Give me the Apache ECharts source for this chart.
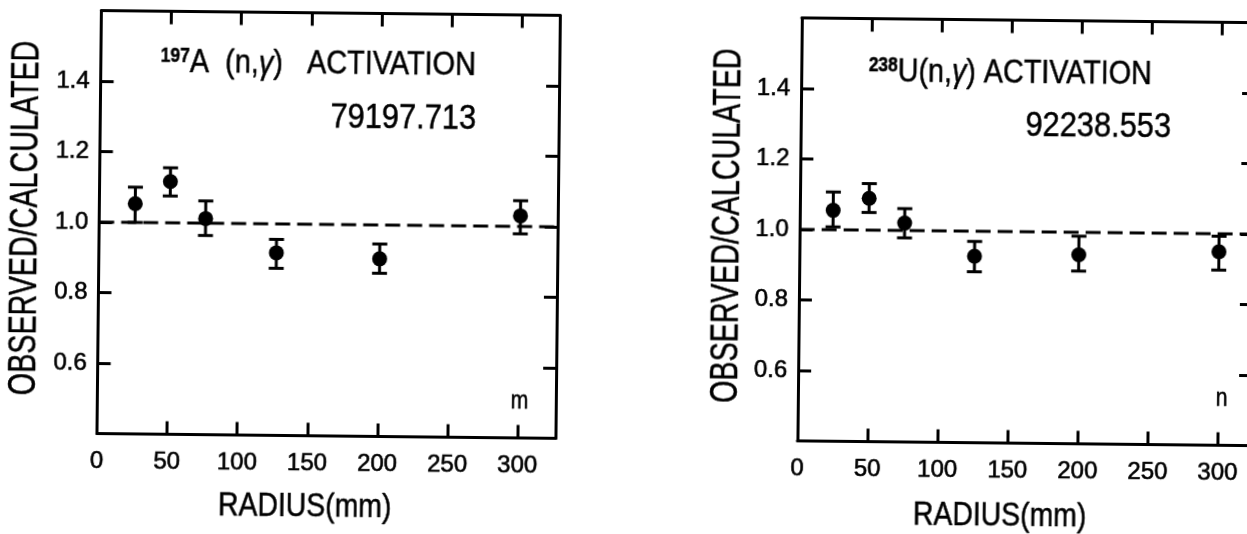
<!DOCTYPE html>
<html><head><meta charset="utf-8">
<script src="https://cdn.jsdelivr.net/npm/echarts@6/dist/echarts.min.js"></script>
<style>
html,body{margin:0;padding:0;background:#fff;overflow:hidden;width:1247px;height:534px}
#c{width:1300px;height:560px;transform-origin:0 0;transform:rotate(0.6deg)}
</style></head><body><div id="c"></div>
<script>
const xTickValues = [0, 50, 100, 150, 200, 250, 300];
const yTickValues = [0.6, 0.8, 1.0, 1.2, 1.4];
const referenceLevel = 1.0;

const auRadius = [25.6, 50.5, 75.9, 126.6, 200.3, 300.4];
const auRatio  = [1.053, 1.117, 1.013, 0.918, 0.904, 1.030];
const auLow    = [1.000, 1.076, 0.965, 0.874, 0.863, 0.979];
const auHigh   = [1.100, 1.156, 1.063, 0.956, 0.946, 1.073];

const uRadius = [23.8, 49.4, 74.9, 125.0, 199.4, 299.4];
const uRatio  = [1.055, 1.090, 1.021, 0.929, 0.936, 0.949];
const uLow    = [1.008, 1.050, 0.979, 0.885, 0.890, 0.897];
const uHigh   = [1.107, 1.132, 1.062, 0.971, 0.989, 0.993];

const yTitle = 'OBSERVED/CALCULATED';
const xTitle = 'RADIUS(mm)';
const SANS = '"Liberation Sans",sans-serif';

const panels = [
  {grid:{left:101.5, top:9.5, width:458.5, height:423, outerBoundsMode:'none'}, xMax:327, r:auRadius, v:auRatio, lo:auLow, hi:auHigh},
  {grid:{left:802, top:9.5, width:454, height:423, outerBoundsMode:'none'}, xMax:324, r:uRadius, v:uRatio, lo:uLow, hi:uHigh}
];

const line = {show:true, onZero:false, lineStyle:{color:'#000', width:3}};
const tick = vals => ({show:true, inside:true, length:13, customValues:vals, lineStyle:{color:'#000', width:3}});
const numLabel = (margin, vals, fmt) => ({
  show:true, margin, customValues:vals, color:'#000', fontFamily:SANS, fontSize:24,
  textBorderColor:'#000', textBorderWidth:0.6, formatter:fmt
});

const grid=[], xAxis=[], yAxis=[], series=[];
panels.forEach((p,i)=>{
  grid.push(p.grid);
  const ix=xAxis.length, iy=yAxis.length;
  xAxis.push({type:'value', gridIndex:i, position:'bottom', min:0, max:p.xMax, splitLine:{show:false},
    axisLine:line, axisTick:tick(xTickValues), axisLabel:numLabel(16, xTickValues, v=>String(v))});
  xAxis.push({type:'value', gridIndex:i, position:'top', min:0, max:p.xMax, splitLine:{show:false},
    axisLine:line, axisTick:tick(xTickValues), axisLabel:{show:false}});
  yAxis.push({type:'value', gridIndex:i, position:'left', min:0.4, max:1.6, splitLine:{show:false},
    axisLine:line, axisTick:tick(yTickValues), axisLabel:numLabel(11, yTickValues, v=>v.toFixed(1))});
  yAxis.push({type:'value', gridIndex:i, position:'right', min:0.4, max:1.6, splitLine:{show:false},
    axisLine:line, axisTick:tick(yTickValues), axisLabel:{show:false}});
  series.push({type:'line', xAxisIndex:ix, yAxisIndex:iy, symbol:'none', silent:true,
    data:[[0,referenceLevel],[p.xMax,referenceLevel]],
    lineStyle:{color:'#000', width:3, type:[15,7]}});
  series.push({type:'custom', xAxisIndex:ix, yAxisIndex:iy, clip:false,
    data:p.r.map((x,k)=>[x,p.lo[k],p.hi[k]]), encode:{x:0,y:[1,2]},
    renderItem(params,api){
      const a=api.coord([api.value(0),api.value(1)]), b=api.coord([api.value(0),api.value(2)]);
      const st={stroke:'#000', lineWidth:3}, w=7.5;
      return {type:'group',children:[
        {type:'line',shape:{x1:a[0],y1:a[1],x2:b[0],y2:b[1]},style:st},
        {type:'line',shape:{x1:a[0]-w,y1:a[1],x2:a[0]+w,y2:a[1]},style:st},
        {type:'line',shape:{x1:b[0]-w,y1:b[1],x2:b[0]+w,y2:b[1]},style:st}
      ]};
    }});
  series.push({type:'scatter', xAxisIndex:ix, yAxisIndex:iy, symbol:'circle', symbolSize:15,
    itemStyle:{color:'#000', opacity:1}, data:p.r.map((x,k)=>[x,p.v[k]])});
});

const txt=(x,y,text,size,sx,extra)=>Object.assign({type:'text',x,y,scaleX:sx,
  style:Object.assign({text,fill:'#000',font:size+'px '+SANS,align:'center',verticalAlign:'middle',
    stroke:'#000',lineWidth:0.5},(extra||{}).style||{})},(extra||{}).el||{});
const head=size=>({
  s:{fontFamily:SANS,fontSize:20,fontWeight:'bold',verticalAlign:'top',fill:'#000'},
  m:{fontFamily:SANS,fontSize:size,fill:'#000',stroke:'#000',lineWidth:0.5},
  g:{fontFamily:SANS,fontSize:size,fontStyle:'italic',fill:'#000',stroke:'#000',lineWidth:0.5}
});
const vert={el:{rotation:Math.PI/2}};

const chart=echarts.init(document.getElementById('c'),null,{renderer:'canvas'});
chart.setOption({
  backgroundColor:'#fff', animation:false, tooltip:{show:false},
  grid, xAxis, yAxis, series,
  graphic:{elements:[
    txt(28.3,217.7,yTitle,38,0.755,vert),
    txt(319,61.4,'{s|197}{m|A  (n,}{g|γ}{m|)   ACTIVATION}',33,0.875,{style:{rich:head(33)}}),
    txt(404.5,114.3,'79197.713',35,0.88),
    txt(523.7,396.5,'m',25,0.85),
    txt(310,503.8,xTitle,33,0.86),
    txt(731,218,yTitle,38,0.755,vert),
    txt(1011,62.6,'{s|238}{m|U(n,}{g|γ}{m|) ACTIVATION}',33,0.87,{style:{rich:head(33)}}),
    txt(1099.5,115.2,'92238.553',35,0.88),
    txt(1225.6,385.7,'n',25,0.85),
    txt(1005,505.5,xTitle,33,0.86)
  ]}
});
</script></body></html>
